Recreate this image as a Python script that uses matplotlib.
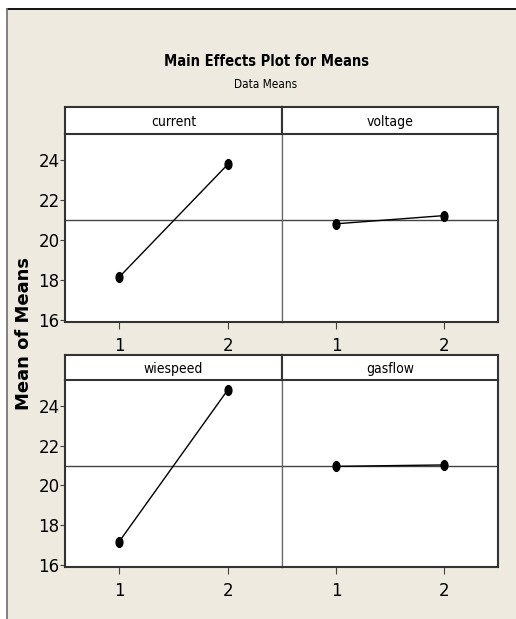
import matplotlib
matplotlib.use("Agg")
import matplotlib.pyplot as plt
from matplotlib.patches import Rectangle
from matplotlib.markers import MarkerStyle
from matplotlib.transforms import Affine2D

# ---- data ----
factors = ["current", "voltage", "wirespeed", "gasflow"]
strip_labels = ["current", "voltage", "wiespeed", "gasflow"]
levels = [1, 2]
current_means = [18.15, 23.78]
voltage_means = [20.81, 21.22]
wirespeed_means = [17.18, 24.80]
gasflow_means = [20.96, 21.03]
grand_mean = 21.0
y_ticks = [16, 18, 20, 22, 24]
x_tick_labels = ["1", "2"]
title = "Main Effects Plot for Means"
subtitle = "Data Means"
ylabel = "Mean of Means"

series = [current_means, voltage_means, wirespeed_means, gasflow_means]

BG = "#EEEAE0"
W, H = 516, 619
fig = plt.figure(figsize=(W / 100, H / 100), dpi=100, facecolor="white")

# outer beige panel with border
fig.patches.append(Rectangle((7 / W, 0), 1 - 7 / W, 1 - 9 / H, transform=fig.transFigure,
                             facecolor=BG, edgecolor="none", zorder=-5))
fig.add_artist(plt.Line2D([7 / W, 1], [1 - 9 / H, 1 - 9 / H], transform=fig.transFigure,
                          color="black", lw=1.3, zorder=-4))
fig.add_artist(plt.Line2D([7 / W, 7 / W], [0, 1 - 9 / H], transform=fig.transFigure,
                          color="#777777", lw=1.3, zorder=-4))

def px_rect(x0, y0, x1, y1):
    return [x0 / W, 1 - y1 / H, (x1 - x0) / W, (y1 - y0) / H]

cols = [(65, 282), (282, 498)]
rows = [((107, 134), (134, 322)), ((355, 380), (380, 567))]

mstyle = MarkerStyle("o", transform=Affine2D().scale(0.7, 1.0))

for i, vals in enumerate(series):
    r, c = divmod(i, 2)
    (sy0, sy1), (py0, py1) = rows[r]
    x0, x1 = cols[c]
    ax = fig.add_axes(px_rect(x0, py0, x1, py1))
    ax.set_facecolor("white")
    ax.axhline(grand_mean, color="#444444", lw=1.0, zorder=1)
    ax.plot(levels, vals, color="black", lw=1.0, marker=mstyle, ms=7,
            markerfacecolor="black", markeredgecolor="black", zorder=3)
    ax.set_xlim(0.5, 2.5)
    ax.set_ylim(15.9, 25.3)
    ax.set_xticks(levels)
    ax.set_xticklabels(x_tick_labels, fontsize=12)
    ax.set_yticks(y_ticks)
    if c == 0:
        ax.set_yticklabels([str(t) for t in y_ticks], fontsize=12)
    else:
        ax.tick_params(axis="y", left=False, labelleft=False)
    ax.tick_params(axis="x", direction="out", length=5, width=0.8, color="#444444", pad=6)
    ax.tick_params(axis="y", direction="out", length=3.5, width=0.8, color="#444444", pad=0.3)
    for s, sp in ax.spines.items():
        sp.set_color("#333333")
        sp.set_linewidth(1.5)
    ax.spines["top"].set_visible(False)
    if c == 0:
        ax.spines["right"].set_color("#666666")
        ax.spines["right"].set_linewidth(0.9)
    else:
        ax.spines["left"].set_color("#666666")
        ax.spines["left"].set_linewidth(0.9)

    sax = fig.add_axes(px_rect(x0, sy0, x1, sy1))
    sax.set_facecolor("white")
    sax.set_xticks([])
    sax.set_yticks([])
    for s, sp in sax.spines.items():
        sp.set_color("#333333")
        sp.set_linewidth(1.5)
    sax.text(0.5, 0.45, strip_labels[i], transform=sax.transAxes, ha="center", va="center",
             fontsize=10, fontstretch="condensed")

fig.text(267 / W, 1 - 62 / H, title, ha="center", va="center", fontsize=10.5,
         fontweight="bold", fontstretch="condensed")
fig.text(266 / W, 1 - 84 / H, subtitle, ha="center", va="center", fontsize=8.5,
         fontstretch="condensed")
fig.text(24 / W, 1 - 334 / H, ylabel, ha="center", va="center", rotation=90,
         fontsize=13, fontweight="bold")

fig.savefig("out.png", dpi=100, facecolor="white")
